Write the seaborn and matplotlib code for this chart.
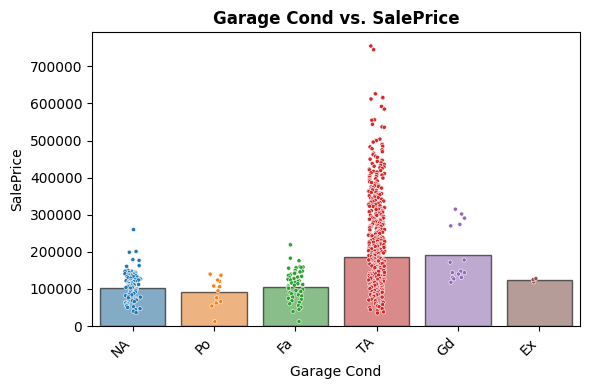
"""
Garage Cond vs. SalePrice: mean bar + individual sales as a strip.
"""

import numpy as np
import pandas as pd
import matplotlib
matplotlib.use("Agg")
import matplotlib.pyplot as plt
import seaborn as sns

CATEGORIES = ["NA", "Po", "Fa", "TA", "Gd", "Ex"]
COLORS = ["#1f77b4", "#ff7f0e", "#2ca02c", "#d62728", "#9467bd", "#8c564b"]

# mean SalePrice per category (bar heights)
MEAN_PRICE = [103000, 92000, 105000, 186000, 192000, 124000]

# individual sale prices, in thousands
NA_PRICES = [260, 201, 199, 179, 177, 163, 161, 150, 149, 148, 147, 146, 145,
             144, 143, 142, 141, 140, 139, 138, 137, 136, 135, 134, 133, 132,
             131, 130, 129, 128, 127, 126, 125, 124, 123, 122, 121, 120, 119,
             118, 117, 116, 115, 114, 113, 112, 111, 110, 109, 108, 107, 106,
             105, 104, 103, 102, 101, 100, 98, 96, 94, 92, 90, 88, 86, 84, 82,
             80, 78, 76, 74, 72, 70, 68, 66, 64, 62, 60, 58, 56, 54, 52, 50,
             47, 44, 40, 36]
PO_PRICES = [140, 137, 121, 124, 108, 106, 95, 76, 66, 62, 54, 12]
FA_PRICES = [219, 183, 176, 160, 159, 158, 157, 156, 150, 148, 146, 144, 142,
             140, 138, 136, 134, 132, 130, 128, 126, 124, 122, 120, 118, 116,
             114, 112, 110, 108, 105, 102, 99, 96, 93, 90, 87, 84, 81, 78, 75,
             72, 68, 64, 60, 55, 50, 45, 39, 12]
TA_PRICES = [755, 745, 626, 615, 612, 616, 592, 585, 556, 555, 544, 537, 536,
             504, 500, 496, 490, 485, 483, 478, 475, 470, 466, 462, 458, 455,
             450, 447, 444, 440, 438, 436, 433, 431,
             429, 427, 425, 423, 421, 419, 417, 415, 413, 411, 409, 407, 405,
             403, 401, 399, 397, 395, 393, 391, 389, 387, 385, 383, 381,
             379, 378, 376, 375, 373, 372, 370, 369, 367, 366, 364, 363, 361,
             360, 358, 357, 355, 354, 352, 351, 349, 348, 346, 345, 343, 342,
             340, 339, 337, 336, 334, 333, 331, 330,
             329, 328, 327, 326, 324, 323, 322, 320, 319, 318, 316, 315, 314,
             312, 311, 310, 308, 307, 306, 304, 303, 302, 300, 299, 298, 296,
             295, 294, 292, 291, 290, 288, 287, 286, 284, 283, 282, 281, 280,
             279, 278, 277, 276, 275, 274, 273, 272, 271, 270, 269, 268, 267,
             266, 265, 264, 263, 262, 261, 260, 259, 258, 257, 256, 255, 254,
             253, 252, 251, 250, 249, 248, 247, 246, 245, 244, 243, 242, 241,
             240, 239, 238, 237, 236, 235, 234, 233, 232, 231, 230,
             229, 228, 227, 226, 225, 224, 223, 222, 221, 220, 219, 218, 217,
             216, 215, 214, 213, 212, 211, 210, 209, 208, 207, 206, 205, 204,
             203, 202, 201, 200, 199, 198, 197, 196, 195, 194, 193, 192, 191,
             190, 189, 188, 187, 186, 185, 184, 183, 182, 181, 180,
             179, 178, 177, 176, 175, 174, 173, 172, 171, 170, 169, 168, 167,
             166, 165, 164, 163, 162, 161, 160, 159, 158, 157, 156, 155, 154,
             153, 152, 151, 150, 149, 148, 147, 146, 145, 144, 143, 142, 141,
             140, 139, 138, 137, 136, 135, 134, 133, 132, 131, 130,
             175.5, 168.5, 161.5, 154.5, 147.5, 140.5, 133.5, 157.5, 144.5, 137.5,
             129, 128, 127, 126, 125, 124, 122, 121, 120, 119, 118, 117, 115,
             114, 113, 112, 111, 110, 108, 107, 106, 105, 104, 103, 101, 100,
             99, 98, 97, 96, 94, 93, 92, 91, 90, 89, 87, 86, 85, 84, 83, 82, 80,
             78, 76, 74, 72, 70, 68, 66, 64, 62, 60, 58, 56, 54, 52, 50, 47, 44,
             41, 38, 35]
GD_PRICES = [315, 302, 291, 274, 270, 178, 172, 148, 144, 144, 140, 131, 131,
             127, 118]
EX_PRICES = [119, 125, 128]

POINTS = {
    "NA": NA_PRICES, "Po": PO_PRICES, "Fa": FA_PRICES,
    "TA": TA_PRICES, "Gd": GD_PRICES, "Ex": EX_PRICES,
}


def build_points():
    rows = []
    for cat, vals in POINTS.items():
        for v in vals:
            rows.append({"Garage Cond": cat, "SalePrice": v * 1000})
    return pd.DataFrame(rows)


def plot():
    np.random.seed(3)
    pts = build_points()
    bars = pd.DataFrame({"Garage Cond": CATEGORIES, "SalePrice": MEAN_PRICE})
    palette = dict(zip(CATEGORIES, COLORS))

    fig, ax = plt.subplots(figsize=(5.9, 3.9), dpi=100)
    sns.barplot(data=bars, x="Garage Cond", y="SalePrice", hue="Garage Cond",
                order=CATEGORIES, palette=palette, alpha=0.6,
                edgecolor="black", linewidth=1, legend=False, ax=ax)
    sns.stripplot(data=pts, x="Garage Cond", y="SalePrice", hue="Garage Cond",
                  order=CATEGORIES, palette=palette, size=3,
                  edgecolor="white", linewidth=0.4, legend=False, ax=ax)

    ax.set_title("Garage Cond vs. SalePrice", fontsize=12, fontweight="bold")
    ax.set_xlabel("Garage Cond")
    ax.set_ylabel("SalePrice")
    plt.setp(ax.get_xticklabels(), rotation=45, ha="right")
    fig.subplots_adjust(left=0.156, right=0.983, top=0.918, bottom=0.164)
    fig.savefig("out.png", dpi=100)
    plt.close(fig)


if __name__ == "__main__":
    plot()
